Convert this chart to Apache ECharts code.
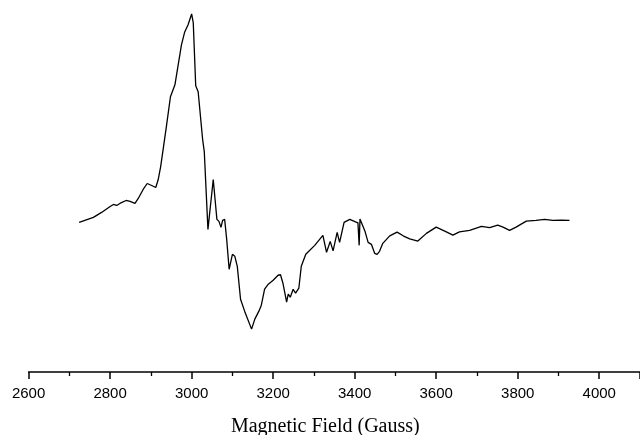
<!DOCTYPE html>
<html>
<head>
<meta charset="utf-8">
<script src="https://cdn.jsdelivr.net/npm/echarts@6/dist/echarts.min.js"></script>
<style>
    html, body { margin: 0; padding: 0; background: #fff; }
    #main { width: 640px; height: 435px; }
</style>
</head>
<body>
<div id="main"></div>
<script>
// 磁场 (Gauss)
var field = [
    2724, 2738, 2759, 2779, 2800, 2808, 2816, 2824, 2839, 2849,
    2861, 2869, 2881, 2891, 2902, 2912, 2918, 2924, 2930, 2938,
    2948, 2959, 2975, 2983, 2991, 3000, 3004, 3010, 3016, 3027,
    3031, 3040, 3053, 3062, 3067, 3072, 3076, 3081, 3086, 3092,
    3100, 3106, 3112, 3120, 3130, 3147, 3155, 3165, 3171, 3179,
    3188, 3200, 3212, 3218, 3224, 3233, 3237, 3242, 3249, 3255,
    3263, 3269, 3280, 3302, 3322, 3331, 3340, 3347, 3357, 3363,
    3374, 3388, 3402, 3408, 3411, 3413, 3425, 3433, 3441, 3449,
    3455, 3461, 3469, 3486, 3504, 3520, 3535, 3555, 3576, 3600,
    3621, 3641, 3657, 3682, 3711, 3731, 3751, 3764, 3780, 3796,
    3821, 3845, 3866, 3886, 3907, 3927
];

// 信号强度 (任意单位)
var signal = [
    -1, 1, 4, 9, 15, 17, 16, 18, 21, 20,
    18, 23, 32, 38, 36, 34, 42, 55, 72, 95,
    125, 137, 177, 190, 197, 208, 199, 136, 130, 82,
    70, -8, 42, 2, 0, -6, 1, 2, -18, -48,
    -33, -35, -45, -78, -90, -108, -98, -90, -84, -68,
    -63, -59, -54, -53.5, -62, -81, -73, -76, -68, -72,
    -67, -45, -33, -24, -14, -31, -20, -29.5, -11, -21,
    -1, 2, -0.5, -1.5, -24, 2.5, -9.5, -21, -23, -32,
    -33, -30, -22, -14.5, -10.7, -14.7, -17.5, -19.7, -12, -5.7,
    -9.7, -13.7, -10.5, -9, -5, -6.3, -3.7, -5.7, -9, -5.7,
    0.3, 1, 2, 1, 1.3, 1
];

var xMin = 2600;
var xMax = 4100;
var xStep = 200;

var points = [];
for (var i = 0; i < field.length; i++) {
    points.push([field[i], signal[i]]);
}

var myChart = echarts.init(document.getElementById('main'));

var option = {
    animation: false,
    grid: {
        left: 28.6,
        right: 0,
        top: 0,
        bottom: 63,
        outerBoundsMode: 'none'   // 不让标签把网格往里挤
    },
    xAxis: {
        type: 'value',
        min: xMin,
        max: xMax,
        interval: xStep,
        name: 'Magnetic Field (Gauss)',
        nameLocation: 'middle',
        nameGap: 45,
        nameTextStyle: {
            fontFamily: 'Liberation Serif',
            fontSize: 20,
            color: '#000',
            padding: [0, 18, 0, 0]
        },
        splitLine: { show: false },
        axisLine: {
            onZero: false,
            lineStyle: { color: '#000', width: 1.6 }
        },
        axisTick: {
            length: 7,
            lineStyle: { color: '#000', width: 1.5 }
        },
        minorTick: {
            show: true,
            splitNumber: 2,
            length: 4,
            lineStyle: { color: '#000', width: 1.3 }
        },
        axisLabel: {
            margin: 14,
            fontFamily: 'Liberation Sans',
            fontSize: 15,
            color: '#000',
            // 只显示 200 的倍数
            formatter: function (v) {
                return v % xStep === 0 ? String(v) : '';
            }
        }
    },
    yAxis: {
        type: 'value',
        show: false,
        min: -151,
        max: 222
    },
    series: [
        {
            type: 'line',
            data: points,
            showSymbol: false,
            lineStyle: { color: '#000', width: 1.3 }
        }
    ]
};

myChart.setOption(option);
</script>
</body>
</html>
